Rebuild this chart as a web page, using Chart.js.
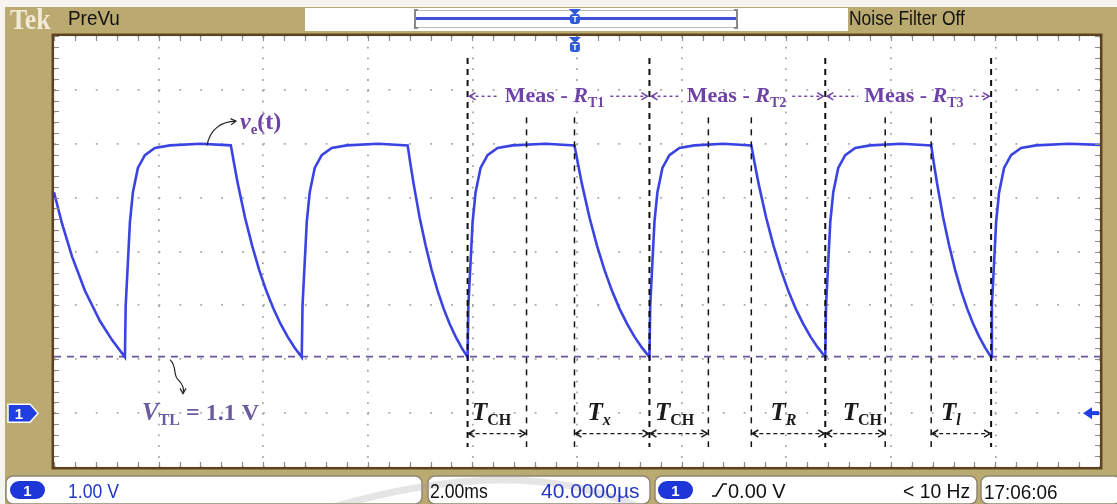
<!DOCTYPE html>
<html><head><meta charset="utf-8">
<script src="https://cdn.jsdelivr.net/npm/chart.js@4.4.1/dist/chart.umd.min.js"></script>
<style>html,body{margin:0;padding:0;background:#fff;overflow:hidden}canvas{display:block}</style>
</head><body>
<canvas id="c" width="1117" height="504"></canvas>
<script>
// ---- data (time in ms, 2 ms/div; voltage in V, 1 V/div) ----
const timeMs = [
 0,0.153,0.344,0.592,0.879,1.108,1.356,
 1.371,1.413,1.452,1.509,1.604,1.738,1.929,2.216,2.80,3.381,
 3.449,3.517,3.652,3.788,3.923,4.059,4.195,4.330,4.466,4.601,4.737,
 4.752,4.794,4.833,4.890,4.985,5.119,5.310,5.597,6.20,6.762,
 6.819,6.877,6.991,7.106,7.220,7.335,7.450,7.564,7.679,7.793,7.908,
 7.923,7.965,8.004,8.061,8.156,8.290,8.481,8.768,9.40,9.952,
 10.024,10.095,10.239,10.382,10.525,10.669,10.812,10.955,11.098,11.242,11.385,
 11.400,11.442,11.481,11.538,11.633,11.767,11.958,12.245,12.80,13.333,
 13.404,13.474,13.616,13.757,13.899,14.040,14.181,14.323,14.464,14.606,14.747,
 14.762,14.804,14.843,14.900,14.995,15.129,15.320,15.607,16.20,16.772,
 16.829,16.887,17.001,17.116,17.230,17.345,17.460,17.574,17.689,17.803,17.918,
 17.933,17.975,18.014,18.071,18.166,18.300,18.491,18.778,19.40,20.0
];
const volts = [
 4.10,3.52,2.91,2.27,1.71,1.36,1.04,
 2.00,2.80,3.55,4.10,4.55,4.79,4.92,4.97,5.00,4.97,
 4.60,4.25,3.63,3.11,2.66,2.27,1.94,1.66,1.42,1.215,1.04,
 2.00,2.80,3.55,4.10,4.55,4.79,4.92,4.97,5.00,4.97,
 4.60,4.25,3.63,3.11,2.66,2.27,1.94,1.66,1.42,1.215,1.04,
 2.00,2.80,3.55,4.10,4.55,4.79,4.92,4.97,5.00,4.97,
 4.60,4.25,3.63,3.11,2.66,2.27,1.94,1.66,1.42,1.215,1.04,
 2.00,2.80,3.55,4.10,4.55,4.79,4.92,4.97,5.00,4.97,
 4.60,4.25,3.63,3.11,2.66,2.27,1.94,1.66,1.42,1.215,1.04,
 2.00,2.80,3.55,4.10,4.55,4.79,4.92,4.97,5.00,4.97,
 4.60,4.25,3.63,3.11,2.66,2.27,1.94,1.66,1.42,1.215,1.04,
 2.00,2.80,3.55,4.10,4.55,4.79,4.92,4.97,5.00,4.98
];
const thresholdV = 1.05;
const markerTimes = [7.908, 9.035, 9.952, 11.385, 12.512, 13.333, 14.747, 15.893, 16.772, 17.918];
const markerTopV  = [6.59, 5.49, 5.49, 6.59, 5.49, 5.49, 6.59, 5.49, 5.49, 6.59];
const markerBottomV = -0.63;
const measStart = [7.908, 11.385, 14.747];
const measEnd   = [11.385, 14.747, 17.918];
const measSub   = ['T1', 'T2', 'T3'];
const measTextT = [8.62, 12.10, 15.49];
const measV = 5.77;
const spanStart = [7.908, 9.952, 11.385, 13.333, 14.747, 16.772];
const spanEnd   = [9.035, 11.385, 12.512, 14.747, 15.893, 17.918];
const spanSub   = ['CH', 'x', 'CH', 'R', 'CH', 'l'];
const spanSubItalic = [false, true, false, true, false, true];
const spanLabelT = [7.99, 10.20, 11.49, 13.70, 15.08, 16.96];
const spanLabelV = -0.13, spanArrowV = -0.38;
const xMin = 0, xMax = 20, xStep = 2;
const yMin = -1, yMax = 7, yStep = 1;

// ---- styles ----
const TAN = '#bbaa70', BROWN = '#5d4120', PURPLE = '#6f42a8';
const SERIF = '"Liberation Serif","Times New Roman",serif';
const SANS = '"Liberation Sans",Arial,sans-serif';

function rr(ctx,x,y,w,h,r){ctx.beginPath();ctx.moveTo(x+r,y);ctx.arcTo(x+w,y,x+w,y+h,r);ctx.arcTo(x+w,y+h,x,y+h,r);ctx.arcTo(x,y+h,x,y,r);ctx.arcTo(x,y,x+w,y,r);ctx.closePath();}
function cond(ctx,text,x,y,font,color,sx){ctx.save();ctx.font=font;ctx.fillStyle=color;ctx.textAlign='left';ctx.textBaseline='alphabetic';ctx.translate(x,y);ctx.scale(sx,1);ctx.fillText(text,0,0);ctx.restore();}
function partFont(p){return (p.i?'italic ':'')+'bold '+p.s+'px '+SERIF;}
function richWidth(ctx,parts){let w=0;for(const p of parts){ctx.font=partFont(p);w+=ctx.measureText(p.t).width;}return w;}
function drawRich(ctx,parts,x,y,color){ctx.save();ctx.fillStyle=color;ctx.textBaseline='alphabetic';ctx.textAlign='left';for(const p of parts){ctx.font=partFont(p);ctx.fillText(p.t,x,y+(p.dy||0));x+=ctx.measureText(p.t).width;}ctx.restore();}
function head(ctx,x,y,ang,s){ctx.beginPath();ctx.moveTo(x+s*Math.cos(ang+2.6),y+s*Math.sin(ang+2.6));ctx.lineTo(x,y);ctx.lineTo(x+s*Math.cos(ang-2.6),y+s*Math.sin(ang-2.6));ctx.stroke();}
function dashArrow(ctx,x1,x2,y,left,right,color,dash){
  ctx.save();ctx.strokeStyle=color;ctx.lineWidth=1.4;ctx.setLineDash(dash);
  ctx.beginPath();ctx.moveTo(x1,y);ctx.lineTo(x2,y);ctx.stroke();ctx.setLineDash([]);ctx.lineWidth=1.5;
  if(left)head(ctx,x1,y,Math.PI,7);
  if(right)head(ctx,x2,y,0,7);
  ctx.restore();
}
function trig(ctx,x,y){
  ctx.save();ctx.fillStyle='#2f5ad8';
  ctx.beginPath();ctx.moveTo(x-6,y);ctx.lineTo(x+6,y);ctx.lineTo(x,y+6);ctx.closePath();ctx.fill();
  rr(ctx,x-5,y+5,10,10,3);ctx.fill();
  ctx.fillStyle='#fff';ctx.font='bold 9px '+SANS;ctx.textAlign='center';ctx.fillText('T',x,y+13);
  ctx.restore();
}
function pill(ctx,x,y){
  ctx.save();ctx.fillStyle='#1c36d8';rr(ctx,x,y,35,18,9);ctx.fill();
  ctx.fillStyle='#fff';ctx.font='bold 15px '+SANS;ctx.textAlign='center';ctx.fillText('1',x+17.5,y+15);ctx.restore();
}

const framePlugin = {
  id: 'frame',
  beforeDraw(chart){
    const {ctx, chartArea:a, width, height} = chart;
    ctx.save();
    ctx.fillStyle='#f6f4ee';ctx.fillRect(0,0,width,height);
    ctx.fillStyle=TAN;ctx.fillRect(5,7,width-5,height-7);
    ctx.fillStyle='#fff';ctx.fillRect(a.left,a.top,a.right-a.left,a.bottom-a.top);
    ctx.fillStyle='#fff';ctx.fillRect(305,8,543,23);
    ctx.restore();
  },
  afterDraw(chart){
    const {ctx, chartArea:a, scales:{x,y}} = chart;
    ctx.save();
    // graticule edge ticks
    ctx.strokeStyle='#8c8c8c';ctx.lineWidth=1.2;
    ctx.beginPath();
    for(let v=xMin; v<=xMax+1e-6; v+=xStep/5){const px=Math.round(x.getPixelForValue(v))+0.5;ctx.moveTo(px,a.top);ctx.lineTo(px,a.top+5);ctx.moveTo(px,a.bottom);ctx.lineTo(px,a.bottom-5);}
    for(let v=yMin; v<=yMax+1e-6; v+=yStep/5){const py=Math.round(y.getPixelForValue(v))+0.5;ctx.moveTo(a.left,py);ctx.lineTo(a.left+5,py);ctx.moveTo(a.right,py);ctx.lineTo(a.right-5,py);}
    ctx.stroke();
    // plot border
    ctx.strokeStyle=BROWN;ctx.lineWidth=2.5;
    ctx.strokeRect(a.left-1.2,a.top-1.2,a.right-a.left+2.4,a.bottom-a.top+2.4);

    // ---- annotations ----
    for(let i=0;i<measStart.length;i++){
      const x1=x.getPixelForValue(measStart[i]), x2=x.getPixelForValue(measEnd[i]), py=y.getPixelForValue(measV);
      const parts=[{t:'Meas - ',s:22},{t:'R',s:22,i:1},{t:measSub[i],s:14,dy:5}];
      const w=richWidth(ctx,parts); const tx=x.getPixelForValue(measTextT[i]);
      drawRich(ctx,parts,tx,py,PURPLE);
      dashArrow(ctx,x1+2,tx-6,py-6,true,false,PURPLE,[3,3]);
      dashArrow(ctx,tx+w+6,x2-2,py-6,false,true,PURPLE,[3,3]);
    }
    for(let i=0;i<spanStart.length;i++){
      const x1=x.getPixelForValue(spanStart[i]), x2=x.getPixelForValue(spanEnd[i]);
      const parts=[{t:'T',s:25,i:1},{t:spanSub[i],s:16,i:spanSubItalic[i]?1:0,dy:5}];
      drawRich(ctx,parts,x.getPixelForValue(spanLabelT[i]),y.getPixelForValue(spanLabelV),'#1a1a1a');
      dashArrow(ctx,x1+1,x2-1,y.getPixelForValue(spanArrowV),true,true,'#1a1a1a',[4,3]);
    }
    // v_e(t)
    {
      const lx=x.getPixelForValue(3.556), ly=y.getPixelForValue(5.27);
      drawRich(ctx,[{t:'v',s:24,i:1},{t:'e',s:15,dy:5},{t:'(t)',s:24}],lx,ly,PURPLE);
      const sx=x.getPixelForValue(2.925), sy=y.getPixelForValue(4.97);
      ctx.strokeStyle='#222';ctx.lineWidth=1.2;
      ctx.beginPath();ctx.moveTo(sx,sy);ctx.bezierCurveTo(sx+3,sy-16,sx+14,sy-24,lx-4,ly-8);ctx.stroke();
      head(ctx,lx-4,ly-8,-0.1,6);
    }
    // V_TL = 1.1 V
    {
      const lx=x.getPixelForValue(1.683), ly=y.getPixelForValue(spanLabelV);
      drawRich(ctx,[{t:'V',s:25,i:1},{t:'TL',s:16,dy:5},{t:' = 1.1 V',s:24}],lx,ly,'#6a5a9e');
      const sx=x.getPixelForValue(2.218), sy=y.getPixelForValue(thresholdV)+3;
      ctx.strokeStyle='#222';ctx.lineWidth=1.2;
      ctx.beginPath();ctx.moveTo(sx,sy);ctx.bezierCurveTo(sx+8,sy+8,sx+2,sy+16,sx+9,sy+21);ctx.bezierCurveTo(sx+13,sy+25,sx+14,sy+30,sx+13,sy+34);ctx.stroke();
      head(ctx,sx+13,sy+34,Math.PI/2,6);
    }
    // channel ground marker (left) and right arrow
    {
      const gy=y.getPixelForValue(0);
      ctx.fillStyle='#1f3fe0';ctx.strokeStyle='#fff';ctx.lineWidth=1.5;
      ctx.beginPath();ctx.moveTo(8,gy-9);ctx.lineTo(30,gy-9);ctx.lineTo(38,gy);ctx.lineTo(30,gy+9);ctx.lineTo(8,gy+9);ctx.closePath();ctx.fill();ctx.stroke();
      ctx.fillStyle='#fff';ctx.font='bold 15px '+SANS;ctx.textAlign='center';ctx.fillText('1',19,gy+5.5);
      ctx.fillStyle='#1f3fe0';
      ctx.beginPath();ctx.moveTo(a.right-17,gy);ctx.lineTo(a.right-8,gy-6);ctx.lineTo(a.right-8,gy+6);ctx.closePath();ctx.fill();
      ctx.fillRect(a.right-9,gy-2,8,4);
    }
    const tpx=x.getPixelForValue(9.96);
    trig(ctx,tpx,a.top+1);

    // ---- top bar ----
    ctx.textAlign='left';
    cond(ctx,'Tek',10,29,'bold 30px '+SERIF,'#f1ead6',0.86);
    cond(ctx,'PreVu',68,25,'21px '+SANS,'#111',0.9);
    ctx.strokeStyle='#b9b9b9';ctx.lineWidth=1;ctx.strokeRect(415.5,10.5,322,17);
    ctx.strokeStyle='#888';ctx.lineWidth=2;
    ctx.beginPath();ctx.moveTo(418,10);ctx.lineTo(415,10);ctx.lineTo(415,28);ctx.lineTo(418,28);ctx.moveTo(734,10);ctx.lineTo(737,10);ctx.lineTo(737,28);ctx.lineTo(734,28);ctx.stroke();
    ctx.strokeStyle='#4050d8';ctx.lineWidth=3;ctx.beginPath();ctx.moveTo(416,18.5);ctx.lineTo(736,18.5);ctx.stroke();
    trig(ctx,tpx,9);
    cond(ctx,'Noise Filter Off',849,25,'21px '+SANS,'#111',0.83);

    // ---- bottom bar ----
    const boxes=[[6,476,416,28],[428,476,222,28],[655,476,322,28],[981,476,140,28]];
    for(const b of boxes){ctx.fillStyle='#fff';rr(ctx,b[0],b[1],b[2],b[3],7);ctx.fill();ctx.strokeStyle='#8d8672';ctx.lineWidth=1.5;ctx.stroke();}
    ctx.strokeStyle='rgba(160,160,160,0.28)';ctx.lineWidth=7;
    ctx.beginPath();ctx.moveTo(330,508);ctx.quadraticCurveTo(520,452,640,508);ctx.stroke();
    pill(ctx,10,481);
    cond(ctx,'1.00 V',68,498,'21px '+SANS,'#2438c8',0.84);
    cond(ctx,'2.00ms',430,498,'21px '+SANS,'#111',0.84);
    cond(ctx,'40.0000\u00b5s',541,498,'21px '+SANS,'#2438c8',1.0);
    pill(ctx,658,481);
    ctx.strokeStyle='#111';ctx.lineWidth=1.6;ctx.beginPath();ctx.moveTo(712,496);ctx.lineTo(716,496);ctx.lineTo(723,484);ctx.lineTo(727,484);ctx.stroke();
    cond(ctx,'0.00 V',728,498,'21px '+SANS,'#111',0.95);
    cond(ctx,'< 10 Hz',903,498,'21px '+SANS,'#111',0.92);
    cond(ctx,'17:06:06',984,499,'21px '+SANS,'#111',0.9);
    ctx.restore();
  }
};

const datasets = [{
  label:'v_e(t)',
  data: timeMs.map((t,i)=>({x:t,y:volts[i]})),
  borderColor:'#3b44e2', borderWidth:2.6, pointRadius:0, tension:0, order:1
},{
  label:'V_TL',
  data:[{x:xMin,y:thresholdV},{x:xMax,y:thresholdV}],
  borderColor:'#6b55a0', borderWidth:1.8, borderDash:[7,6], pointRadius:0, order:2
}];
markerTimes.forEach((t,i)=>{
  const tall = markerTopV[i] > 6;
  datasets.push({label:'m'+i,data:[{x:t,y:markerTopV[i]},{x:t,y:markerBottomV}],
    borderColor:'#111',borderWidth:tall?2:1.5,borderDash:tall?[6,5]:[6,6],pointRadius:0,order:0});
});

new Chart(document.getElementById('c'),{
  type:'line',
  data:{datasets},
  options:{
    responsive:false, animation:false, devicePixelRatio:1,
    layout:{padding:{left:54,right:17,top:36,bottom:37}},
    plugins:{legend:{display:false},tooltip:{enabled:false}},
    scales:{
      x:{type:'linear',min:xMin,max:xMax,ticks:{display:false,stepSize:xStep},
         grid:{color:'#a8a8a8',lineWidth:1.8,drawTicks:false},border:{display:false,dash:[1.8,8.97]}},
      y:{type:'linear',min:yMin,max:yMax,ticks:{display:false,stepSize:yStep},
         grid:{color:'#a8a8a8',lineWidth:1.8,drawTicks:false},border:{display:false,dash:[1.8,19.1]}}
    }
  },
  plugins:[framePlugin]
});
</script>
</body></html>
